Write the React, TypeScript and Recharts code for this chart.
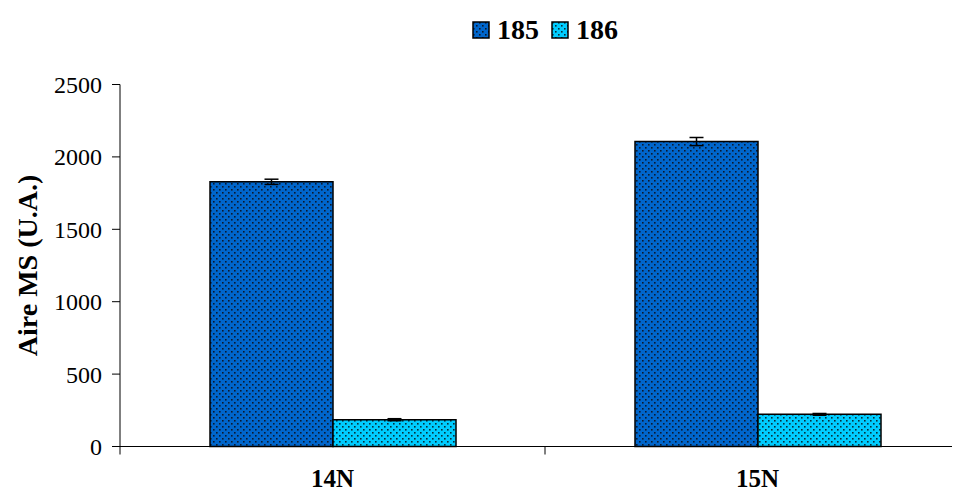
import React from 'react';
import { BarChart, Bar, XAxis, YAxis, ErrorBar, Legend } from 'recharts';

const categories = ['14N', '15N'];
const series185 = [1828, 2106];
const series186 = [185, 222];
const error185 = [18, 28];
const error186 = [7, 6];
const yTicks = [0, 500, 1000, 1500, 2000, 2500];

const data = categories.map((c, i) => ({
  cat: c,
  v185: series185[i],
  v186: series186[i],
  e185: error185[i],
  e186: error186[i],
}));

const FONT = '"Liberation Serif", "Times New Roman", serif';
const C185 = '#0066CC';
const C186 = '#00CCFF';
const TICK_SIZE = 8;
const TICK_MARGIN = 15;

const PatternDefs = ({ idPrefix = '' }: { idPrefix?: string }) => (
  <defs>
    <pattern id={`${idPrefix}p185`} width="6" height="6" patternUnits="userSpaceOnUse">
      <rect width="6" height="6" fill={C185} />
      <rect x="1" y="1" width="1.6" height="1.6" fill="#0a1a30" />
      <rect x="4" y="4" width="1.6" height="1.6" fill="#0a1a30" />
    </pattern>
    <pattern id={`${idPrefix}p186`} width="6" height="6" patternUnits="userSpaceOnUse">
      <rect width="6" height="6" fill={C186} />
      <rect x="1" y="1" width="1.6" height="1.6" fill="#06303a" />
      <rect x="4" y="4" width="1.6" height="1.6" fill="#06303a" />
    </pattern>
  </defs>
);

const XTick = (props: any) => {
  const { x, y, payload, index } = props;
  const off = payload && typeof payload.offset === 'number' ? payload.offset : 0;
  const axisY = y - TICK_SIZE - TICK_MARGIN;
  return (
    <g>
      {index === 0 && (
        <line x1={x - off} y1={axisY} x2={x - off} y2={axisY + TICK_SIZE} stroke="#000" strokeWidth={1} />
      )}
      <line x1={x + off} y1={axisY} x2={x + off} y2={axisY + TICK_SIZE} stroke="#000" strokeWidth={1} />
      <text x={x} y={y} dy="0.71em" textAnchor="middle" fontFamily={FONT} fontWeight="bold" fontSize={25} fill="#000">
        {payload.value}
      </text>
    </g>
  );
};

const LegendContent = () => {
  const items = [
    { label: '185', fill: 'url(#lgp185)' },
    { label: '186', fill: 'url(#lgp186)' },
  ];
  return (
    <div style={{ display: 'flex', alignItems: 'center', justifyContent: 'center', fontFamily: FONT }}>
      <svg width={0} height={0} style={{ position: 'absolute' }}>
        <PatternDefs idPrefix="lg" />
      </svg>
      {items.map((it) => (
        <div key={it.label} style={{ display: 'flex', alignItems: 'center', marginRight: 12 }}>
          <svg width={18} height={18} style={{ marginRight: 7 }}>
            <rect x={1} y={1} width={16} height={16} fill={it.fill} stroke="#000" strokeWidth={1.5} />
          </svg>
          <span style={{ fontWeight: 'bold', fontSize: 28, lineHeight: '30px', color: '#000' }}>{it.label}</span>
        </div>
      ))}
    </div>
  );
};

export default function App() {
  return (
    <div style={{ width: 952, height: 487, overflow: 'hidden', position: 'relative' }}>
      <BarChart
        width={980}
        height={487}
        data={data}
        margin={{ top: 76.5, right: 18, left: 0, bottom: 0.5 }}
        barCategoryGap={90}
        barGap={0}
      >
        <PatternDefs />
        <Legend
          verticalAlign="middle"
          layout="horizontal"
          content={<LegendContent />}
          wrapperStyle={{ top: 7, left: 443, width: 200 }}
        />
        <XAxis
          dataKey="cat"
          type="category"
          height={48}
          axisLine={{ stroke: '#000', strokeWidth: 1 }}
          tickLine={{ stroke: 'none' }}
          tickSize={TICK_SIZE}
          tickMargin={TICK_MARGIN}
          tick={<XTick />}
          interval={0}
        />
        <YAxis
          width={112}
          domain={[0, 2500]}
          ticks={yTicks}
          interval={0}
          axisLine={{ stroke: '#000', strokeWidth: 1 }}
          tickLine={{ stroke: '#000', strokeWidth: 1 }}
          tickSize={8}
          tickMargin={10}
          tick={{ fontFamily: FONT, fontSize: 24, fill: '#000' }}
          label={{
            value: 'Aire MS (U.A.)',
            angle: -90,
            position: 'insideLeft',
            offset: 19,
            style: { fontFamily: FONT, fontWeight: 'bold', fontSize: 28, fill: '#000', textAnchor: 'middle' },
          }}
        />
        <Bar dataKey="v185" name="185" fill="url(#p185)" stroke="#000" strokeWidth={1.5} isAnimationActive={false}>
          <ErrorBar dataKey="e185" width={7} stroke="#000" strokeWidth={1.5} />
        </Bar>
        <Bar dataKey="v186" name="186" fill="url(#p186)" stroke="#000" strokeWidth={1.5} isAnimationActive={false}>
          <ErrorBar dataKey="e186" width={7} stroke="#000" strokeWidth={1.5} />
        </Bar>
      </BarChart>
    </div>
  );
}
